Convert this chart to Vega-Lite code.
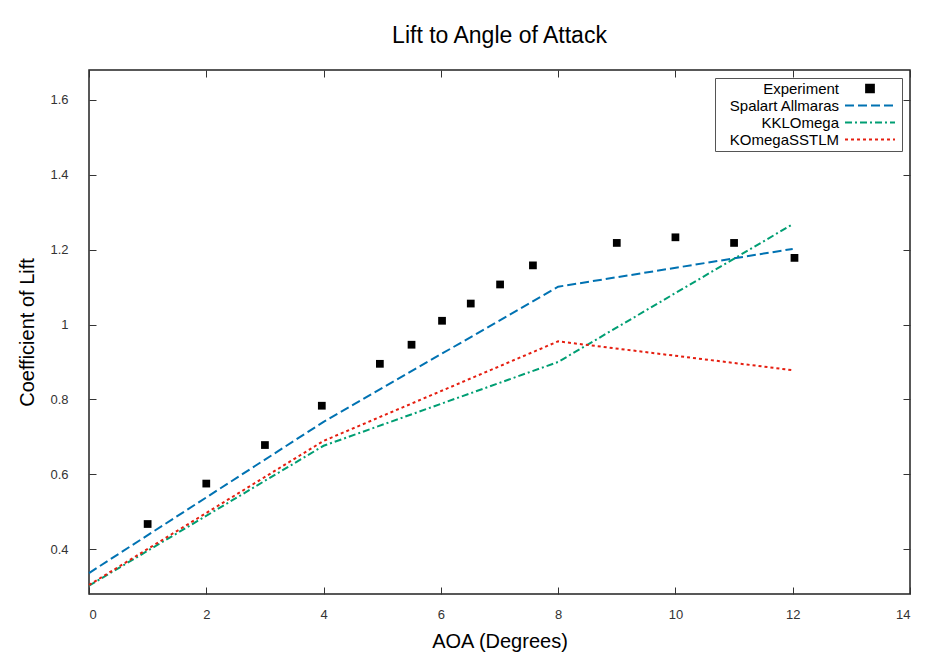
{
  "$schema": "https://vega.github.io/schema/vega-lite/v6.json",
  "width": 821,
  "height": 524,
  "autosize": {"type": "none"},
  "padding": {"left": 89, "top": 70, "right": 17, "bottom": 59},
  "background": "white",
  "title": {"text": "Lift to Angle of Attack", "fontSize": 23, "font": "Liberation Sans", "fontWeight": "normal", "offset": 4, "baseline": "alphabetic", "color": "black"},
  "data": {
    "values": [
      {"series": "Experiment", "aoa": 1, "cl": 0.467},
      {"series": "Experiment", "aoa": 2, "cl": 0.575},
      {"series": "Experiment", "aoa": 3, "cl": 0.678},
      {"series": "Experiment", "aoa": 3.97, "cl": 0.783},
      {"series": "Experiment", "aoa": 4.96, "cl": 0.895},
      {"series": "Experiment", "aoa": 5.5, "cl": 0.946},
      {"series": "Experiment", "aoa": 6.02, "cl": 1.01},
      {"series": "Experiment", "aoa": 6.51, "cl": 1.056},
      {"series": "Experiment", "aoa": 7.01, "cl": 1.107},
      {"series": "Experiment", "aoa": 7.57, "cl": 1.158},
      {"series": "Experiment", "aoa": 9, "cl": 1.218},
      {"series": "Experiment", "aoa": 10, "cl": 1.233},
      {"series": "Experiment", "aoa": 11, "cl": 1.218},
      {"series": "Experiment", "aoa": 12.03, "cl": 1.178},
      {"series": "Spalart Allmaras", "aoa": 0, "cl": 0.336},
      {"series": "Spalart Allmaras", "aoa": 4, "cl": 0.74},
      {"series": "Spalart Allmaras", "aoa": 8, "cl": 1.101},
      {"series": "Spalart Allmaras", "aoa": 12, "cl": 1.202},
      {"series": "KKLOmega", "aoa": 0, "cl": 0.302},
      {"series": "KKLOmega", "aoa": 4, "cl": 0.676},
      {"series": "KKLOmega", "aoa": 8, "cl": 0.9},
      {"series": "KKLOmega", "aoa": 12, "cl": 1.268},
      {"series": "KOmegaSSTLM", "aoa": 0, "cl": 0.304},
      {"series": "KOmegaSSTLM", "aoa": 4, "cl": 0.689},
      {"series": "KOmegaSSTLM", "aoa": 8, "cl": 0.955},
      {"series": "KOmegaSSTLM", "aoa": 12, "cl": 0.878}
    ]
  },
  "layer": [
    {
      "transform": [{"filter": "datum.series !== 'Experiment'"}],
      "mark": {"type": "line", "strokeWidth": 2},
      "encoding": {
        "x": {
          "field": "aoa", "type": "quantitative",
          "scale": {"domain": [0, 14], "nice": false, "zero": false},
          "axis": {"orient": "bottom", "title": "AOA (Degrees)", "values": [0, 2, 4, 6, 8, 10, 12, 14], "format": "d", "labelPadding": 21, "titlePadding": 10}
        },
        "y": {
          "field": "cl", "type": "quantitative",
          "scale": {"domain": [0.28, 1.68], "nice": false, "zero": false},
          "axis": {"orient": "left", "title": "Coefficient of Lift", "values": [0.4, 0.6, 0.8, 1, 1.2, 1.4, 1.6], "format": ".2~f", "labelPadding": 28, "titlePadding": 12}
        },
        "color": {
          "field": "series", "type": "nominal",
          "scale": {"domain": ["Experiment", "Spalart Allmaras", "KKLOmega", "KOmegaSSTLM"], "range": ["#000000", "#0072b2", "#009e73", "#e51e10"]},
          "legend": {
            "title": null,
            "orient": "top-right",
            "offset": 8,
            "padding": 3,
            "strokeColor": "#555555",
            "fillColor": "white",
            "labelFont": "Liberation Sans",
            "labelFontSize": 15,
            "labelColor": "black",
            "rowPadding": 1,
            "symbolType": "M-5,0L5,0",
            "symbolSize": 100,
            "symbolStrokeWidth": 2,
            "encode": {
              "symbols": {
                "update": {
                  "x": {"value": 152},
                  "shape": {"signal": "datum.value === 'Experiment' ? 'square' : 'M-5,0L5,0'"},
                  "size": {"signal": "datum.value === 'Experiment' ? 60 : 100"},
                  "fill": {"signal": "datum.value === 'Experiment' ? 'black' : 'transparent'"},
                  "strokeDash": {"signal": "datum.value === 'Spalart Allmaras' ? [9,4] : datum.value === 'KKLOmega' ? [7,3,2,3] : datum.value === 'KOmegaSSTLM' ? [3,3] : [1,0]"},
                  "opacity": {"value": 1}
                }
              },
              "labels": {
                "update": {
                  "x": {"value": 121},
                  "align": {"value": "right"}
                }
              }
            }
          }
        },
        "strokeDash": {
          "field": "series", "type": "nominal",
          "scale": {"domain": ["Spalart Allmaras", "KKLOmega", "KOmegaSSTLM"], "range": [[9, 4], [7, 3, 2, 3], [3, 3]]},
          "legend": null
        }
      }
    },
    {
      "transform": [{"filter": "datum.series === 'Experiment'"}],
      "mark": {"type": "point", "shape": "square", "filled": true, "size": 60, "opacity": 1},
      "encoding": {
        "x": {
          "field": "aoa", "type": "quantitative",
          "scale": {"domain": [0, 14], "nice": false, "zero": false},
          "axis": {"orient": "top", "title": null, "labels": false, "values": [0, 2, 4, 6, 8, 10, 12, 14]}
        },
        "y": {
          "field": "cl", "type": "quantitative",
          "scale": {"domain": [0.28, 1.68], "nice": false, "zero": false},
          "axis": {"orient": "right", "title": null, "labels": false, "values": [0.4, 0.6, 0.8, 1, 1.2, 1.4, 1.6]}
        },
        "color": {"field": "series", "type": "nominal"}
      }
    }
  ],
  "resolve": {"axis": {"x": "independent", "y": "independent"}},
  "config": {
    "view": {"stroke": "#222222", "strokeWidth": 1.5},
    "axis": {
      "domain": false,
      "grid": false,
      "tickSize": -7,
      "tickColor": "#333333",
      "tickWidth": 1,
      "labelFont": "Liberation Sans",
      "labelFontSize": 13,
      "labelColor": "#333333",
      "titleFont": "Liberation Sans",
      "titleFontSize": 20,
      "titleFontWeight": "normal",
      "titleColor": "black"
    }
  }
}
